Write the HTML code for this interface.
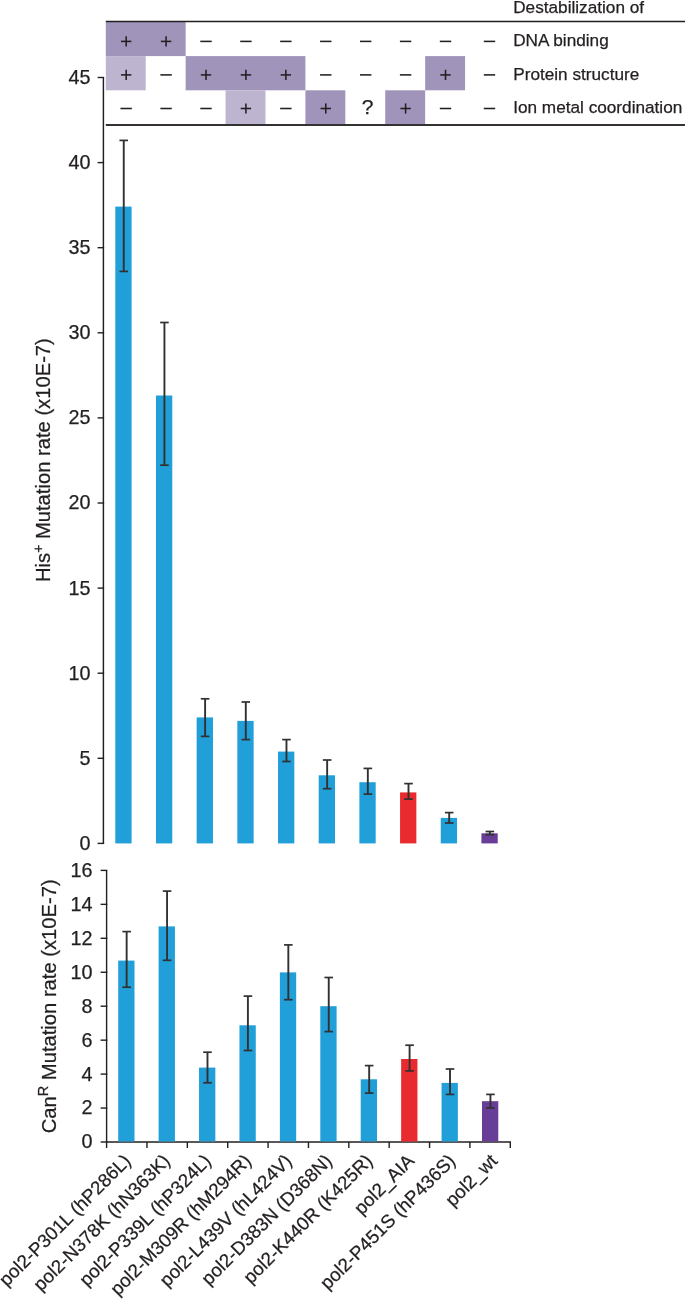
<!DOCTYPE html>
<html><head><meta charset="utf-8"><style>
html,body{margin:0;padding:0;background:#fff;}
svg{display:block;will-change:transform;}
text{font-family:"Liberation Sans",sans-serif;fill:#231f20;stroke:#231f20;stroke-width:0.25px;}
</style></head><body>
<svg width="685" height="1299" viewBox="0 0 685 1299">
<rect width="685" height="1299" fill="#fff"/>
<rect x="105.80" y="21.50" width="79.84" height="34.60" fill="#a094bb"/>
<rect x="105.80" y="56.10" width="39.92" height="34.20" fill="#bdb4d0"/>
<rect x="185.64" y="56.10" width="119.76" height="34.20" fill="#a094bb"/>
<rect x="425.16" y="56.10" width="39.92" height="34.20" fill="#a094bb"/>
<rect x="225.56" y="90.30" width="39.92" height="34.20" fill="#bdb4d0"/>
<rect x="305.40" y="90.30" width="39.92" height="34.20" fill="#a094bb"/>
<rect x="385.24" y="90.30" width="39.92" height="34.20" fill="#a094bb"/>
<line x1="105.80" y1="21.50" x2="685.00" y2="21.50" stroke="#231f20" stroke-width="1.6"/>
<line x1="105.80" y1="125.00" x2="685.00" y2="125.00" stroke="#353132" stroke-width="1.9"/>
<line x1="120.96" y1="41.40" x2="131.36" y2="41.40" stroke="#231f20" stroke-width="1.55"/>
<line x1="126.16" y1="36.30" x2="126.16" y2="46.50" stroke="#231f20" stroke-width="1.55"/>
<line x1="160.88" y1="41.40" x2="171.28" y2="41.40" stroke="#231f20" stroke-width="1.55"/>
<line x1="166.08" y1="36.30" x2="166.08" y2="46.50" stroke="#231f20" stroke-width="1.55"/>
<line x1="200.30" y1="41.40" x2="211.70" y2="41.40" stroke="#231f20" stroke-width="1.55"/>
<line x1="240.22" y1="41.40" x2="251.62" y2="41.40" stroke="#231f20" stroke-width="1.55"/>
<line x1="280.14" y1="41.40" x2="291.54" y2="41.40" stroke="#231f20" stroke-width="1.55"/>
<line x1="320.06" y1="41.40" x2="331.46" y2="41.40" stroke="#231f20" stroke-width="1.55"/>
<line x1="359.98" y1="41.40" x2="371.38" y2="41.40" stroke="#231f20" stroke-width="1.55"/>
<line x1="399.90" y1="41.40" x2="411.30" y2="41.40" stroke="#231f20" stroke-width="1.55"/>
<line x1="439.82" y1="41.40" x2="451.22" y2="41.40" stroke="#231f20" stroke-width="1.55"/>
<line x1="483.80" y1="41.40" x2="495.20" y2="41.40" stroke="#231f20" stroke-width="1.55"/>
<line x1="120.96" y1="74.90" x2="131.36" y2="74.90" stroke="#231f20" stroke-width="1.55"/>
<line x1="126.16" y1="69.80" x2="126.16" y2="80.00" stroke="#231f20" stroke-width="1.55"/>
<line x1="160.38" y1="74.90" x2="171.78" y2="74.90" stroke="#231f20" stroke-width="1.55"/>
<line x1="200.80" y1="74.90" x2="211.20" y2="74.90" stroke="#231f20" stroke-width="1.55"/>
<line x1="206.00" y1="69.80" x2="206.00" y2="80.00" stroke="#231f20" stroke-width="1.55"/>
<line x1="240.72" y1="74.90" x2="251.12" y2="74.90" stroke="#231f20" stroke-width="1.55"/>
<line x1="245.92" y1="69.80" x2="245.92" y2="80.00" stroke="#231f20" stroke-width="1.55"/>
<line x1="280.64" y1="74.90" x2="291.04" y2="74.90" stroke="#231f20" stroke-width="1.55"/>
<line x1="285.84" y1="69.80" x2="285.84" y2="80.00" stroke="#231f20" stroke-width="1.55"/>
<line x1="320.06" y1="74.90" x2="331.46" y2="74.90" stroke="#231f20" stroke-width="1.55"/>
<line x1="359.98" y1="74.90" x2="371.38" y2="74.90" stroke="#231f20" stroke-width="1.55"/>
<line x1="399.90" y1="74.90" x2="411.30" y2="74.90" stroke="#231f20" stroke-width="1.55"/>
<line x1="440.32" y1="74.90" x2="450.72" y2="74.90" stroke="#231f20" stroke-width="1.55"/>
<line x1="445.52" y1="69.80" x2="445.52" y2="80.00" stroke="#231f20" stroke-width="1.55"/>
<line x1="483.80" y1="74.90" x2="495.20" y2="74.90" stroke="#231f20" stroke-width="1.55"/>
<line x1="120.46" y1="108.50" x2="131.86" y2="108.50" stroke="#231f20" stroke-width="1.55"/>
<line x1="160.38" y1="108.50" x2="171.78" y2="108.50" stroke="#231f20" stroke-width="1.55"/>
<line x1="200.30" y1="108.50" x2="211.70" y2="108.50" stroke="#231f20" stroke-width="1.55"/>
<line x1="240.72" y1="108.50" x2="251.12" y2="108.50" stroke="#231f20" stroke-width="1.55"/>
<line x1="245.92" y1="103.40" x2="245.92" y2="113.60" stroke="#231f20" stroke-width="1.55"/>
<line x1="280.14" y1="108.50" x2="291.54" y2="108.50" stroke="#231f20" stroke-width="1.55"/>
<line x1="320.56" y1="108.50" x2="330.96" y2="108.50" stroke="#231f20" stroke-width="1.55"/>
<line x1="325.76" y1="103.40" x2="325.76" y2="113.60" stroke="#231f20" stroke-width="1.55"/>
<text x="367.68" y="114.30" font-size="21" text-anchor="middle" >?</text>
<line x1="400.40" y1="108.50" x2="410.80" y2="108.50" stroke="#231f20" stroke-width="1.55"/>
<line x1="405.60" y1="103.40" x2="405.60" y2="113.60" stroke="#231f20" stroke-width="1.55"/>
<line x1="439.82" y1="108.50" x2="451.22" y2="108.50" stroke="#231f20" stroke-width="1.55"/>
<line x1="483.80" y1="108.50" x2="495.20" y2="108.50" stroke="#231f20" stroke-width="1.55"/>
<text x="513.20" y="12.60" font-size="17.2" text-anchor="start" >Destabilization of</text>
<text x="513.20" y="45.80" font-size="17.2" text-anchor="start" >DNA binding</text>
<text x="513.20" y="79.60" font-size="17.2" text-anchor="start" >Protein structure</text>
<text x="513.20" y="113.40" font-size="17.2" text-anchor="start" >Ion metal coordination</text>
<line x1="103.40" y1="77.30" x2="103.40" y2="844.10" stroke="#231f20" stroke-width="1.45"/>
<line x1="97.60" y1="843.40" x2="104.10" y2="843.40" stroke="#231f20" stroke-width="1.4"/>
<text x="90.60" y="849.80" font-size="19.8" text-anchor="end" >0</text>
<line x1="97.60" y1="758.30" x2="104.10" y2="758.30" stroke="#231f20" stroke-width="1.4"/>
<text x="90.60" y="764.70" font-size="19.8" text-anchor="end" >5</text>
<line x1="97.60" y1="673.20" x2="104.10" y2="673.20" stroke="#231f20" stroke-width="1.4"/>
<text x="90.60" y="679.60" font-size="19.8" text-anchor="end" >10</text>
<line x1="97.60" y1="588.10" x2="104.10" y2="588.10" stroke="#231f20" stroke-width="1.4"/>
<text x="90.60" y="594.50" font-size="19.8" text-anchor="end" >15</text>
<line x1="97.60" y1="503.00" x2="104.10" y2="503.00" stroke="#231f20" stroke-width="1.4"/>
<text x="90.60" y="509.40" font-size="19.8" text-anchor="end" >20</text>
<line x1="97.60" y1="417.90" x2="104.10" y2="417.90" stroke="#231f20" stroke-width="1.4"/>
<text x="90.60" y="424.30" font-size="19.8" text-anchor="end" >25</text>
<line x1="97.60" y1="332.80" x2="104.10" y2="332.80" stroke="#231f20" stroke-width="1.4"/>
<text x="90.60" y="339.20" font-size="19.8" text-anchor="end" >30</text>
<line x1="97.60" y1="247.70" x2="104.10" y2="247.70" stroke="#231f20" stroke-width="1.4"/>
<text x="90.60" y="254.10" font-size="19.8" text-anchor="end" >35</text>
<line x1="97.60" y1="162.60" x2="104.10" y2="162.60" stroke="#231f20" stroke-width="1.4"/>
<text x="90.60" y="169.00" font-size="19.8" text-anchor="end" >40</text>
<line x1="97.60" y1="77.50" x2="104.10" y2="77.50" stroke="#231f20" stroke-width="1.4"/>
<text x="90.60" y="83.90" font-size="19.8" text-anchor="end" >45</text>
<rect x="115.30" y="206.60" width="16.30" height="636.80" fill="#209fd8"/>
<line x1="123.75" y1="140.40" x2="123.75" y2="271.40" stroke="#333031" stroke-width="1.9"/>
<line x1="119.45" y1="140.40" x2="128.05" y2="140.40" stroke="#333031" stroke-width="1.7"/>
<line x1="119.45" y1="271.40" x2="128.05" y2="271.40" stroke="#333031" stroke-width="1.7"/>
<rect x="155.98" y="395.50" width="16.30" height="447.90" fill="#209fd8"/>
<line x1="164.43" y1="322.50" x2="164.43" y2="465.20" stroke="#333031" stroke-width="1.9"/>
<line x1="160.13" y1="322.50" x2="168.73" y2="322.50" stroke="#333031" stroke-width="1.7"/>
<line x1="160.13" y1="465.20" x2="168.73" y2="465.20" stroke="#333031" stroke-width="1.7"/>
<rect x="196.66" y="717.40" width="16.30" height="126.00" fill="#209fd8"/>
<line x1="205.11" y1="698.80" x2="205.11" y2="736.40" stroke="#333031" stroke-width="1.9"/>
<line x1="200.81" y1="698.80" x2="209.41" y2="698.80" stroke="#333031" stroke-width="1.7"/>
<line x1="200.81" y1="736.40" x2="209.41" y2="736.40" stroke="#333031" stroke-width="1.7"/>
<rect x="237.34" y="720.90" width="16.30" height="122.50" fill="#209fd8"/>
<line x1="245.79" y1="702.00" x2="245.79" y2="739.60" stroke="#333031" stroke-width="1.9"/>
<line x1="241.49" y1="702.00" x2="250.09" y2="702.00" stroke="#333031" stroke-width="1.7"/>
<line x1="241.49" y1="739.60" x2="250.09" y2="739.60" stroke="#333031" stroke-width="1.7"/>
<rect x="278.02" y="751.60" width="16.30" height="91.80" fill="#209fd8"/>
<line x1="286.47" y1="739.60" x2="286.47" y2="761.50" stroke="#333031" stroke-width="1.9"/>
<line x1="282.17" y1="739.60" x2="290.77" y2="739.60" stroke="#333031" stroke-width="1.7"/>
<line x1="282.17" y1="761.50" x2="290.77" y2="761.50" stroke="#333031" stroke-width="1.7"/>
<rect x="318.70" y="775.30" width="16.30" height="68.10" fill="#209fd8"/>
<line x1="327.15" y1="760.00" x2="327.15" y2="788.70" stroke="#333031" stroke-width="1.9"/>
<line x1="322.85" y1="760.00" x2="331.45" y2="760.00" stroke="#333031" stroke-width="1.7"/>
<line x1="322.85" y1="788.70" x2="331.45" y2="788.70" stroke="#333031" stroke-width="1.7"/>
<rect x="359.38" y="782.20" width="16.30" height="61.20" fill="#209fd8"/>
<line x1="367.83" y1="768.40" x2="367.83" y2="794.10" stroke="#333031" stroke-width="1.9"/>
<line x1="363.53" y1="768.40" x2="372.13" y2="768.40" stroke="#333031" stroke-width="1.7"/>
<line x1="363.53" y1="794.10" x2="372.13" y2="794.10" stroke="#333031" stroke-width="1.7"/>
<rect x="400.06" y="792.40" width="16.30" height="51.00" fill="#e92a2e"/>
<line x1="408.51" y1="783.60" x2="408.51" y2="799.10" stroke="#333031" stroke-width="1.9"/>
<line x1="404.21" y1="783.60" x2="412.81" y2="783.60" stroke="#333031" stroke-width="1.7"/>
<line x1="404.21" y1="799.10" x2="412.81" y2="799.10" stroke="#333031" stroke-width="1.7"/>
<rect x="440.74" y="817.90" width="16.30" height="25.50" fill="#209fd8"/>
<line x1="449.19" y1="812.60" x2="449.19" y2="823.00" stroke="#333031" stroke-width="1.9"/>
<line x1="444.89" y1="812.60" x2="453.49" y2="812.60" stroke="#333031" stroke-width="1.7"/>
<line x1="444.89" y1="823.00" x2="453.49" y2="823.00" stroke="#333031" stroke-width="1.7"/>
<rect x="481.42" y="833.30" width="16.30" height="10.10" fill="#683d97"/>
<line x1="489.87" y1="831.50" x2="489.87" y2="834.70" stroke="#333031" stroke-width="1.9"/>
<line x1="485.57" y1="831.50" x2="494.17" y2="831.50" stroke="#333031" stroke-width="1.7"/>
<line x1="485.57" y1="834.70" x2="494.17" y2="834.70" stroke="#333031" stroke-width="1.7"/>
<text transform="translate(50.4,582) rotate(-90)" font-size="20.2">His<tspan font-size="14" dy="-7">+</tspan><tspan dy="7"> Mutation rate (x10E-7)</tspan></text>
<line x1="106.60" y1="870.40" x2="106.60" y2="1142.00" stroke="#231f20" stroke-width="1.4"/>
<line x1="100.60" y1="1142.00" x2="107.30" y2="1142.00" stroke="#231f20" stroke-width="1.4"/>
<text x="92.40" y="1148.40" font-size="19.8" text-anchor="end" >0</text>
<line x1="100.60" y1="1108.05" x2="107.30" y2="1108.05" stroke="#231f20" stroke-width="1.4"/>
<text x="92.40" y="1114.45" font-size="19.8" text-anchor="end" >2</text>
<line x1="100.60" y1="1074.10" x2="107.30" y2="1074.10" stroke="#231f20" stroke-width="1.4"/>
<text x="92.40" y="1080.50" font-size="19.8" text-anchor="end" >4</text>
<line x1="100.60" y1="1040.15" x2="107.30" y2="1040.15" stroke="#231f20" stroke-width="1.4"/>
<text x="92.40" y="1046.55" font-size="19.8" text-anchor="end" >6</text>
<line x1="100.60" y1="1006.20" x2="107.30" y2="1006.20" stroke="#231f20" stroke-width="1.4"/>
<text x="92.40" y="1012.60" font-size="19.8" text-anchor="end" >8</text>
<line x1="100.60" y1="972.25" x2="107.30" y2="972.25" stroke="#231f20" stroke-width="1.4"/>
<text x="92.40" y="978.65" font-size="19.8" text-anchor="end" >10</text>
<line x1="100.60" y1="938.30" x2="107.30" y2="938.30" stroke="#231f20" stroke-width="1.4"/>
<text x="92.40" y="944.70" font-size="19.8" text-anchor="end" >12</text>
<line x1="100.60" y1="904.35" x2="107.30" y2="904.35" stroke="#231f20" stroke-width="1.4"/>
<text x="92.40" y="910.75" font-size="19.8" text-anchor="end" >14</text>
<line x1="100.60" y1="870.40" x2="107.30" y2="870.40" stroke="#231f20" stroke-width="1.4"/>
<text x="92.40" y="876.80" font-size="19.8" text-anchor="end" >16</text>
<line x1="105.90" y1="1142.00" x2="511.00" y2="1142.00" stroke="#231f20" stroke-width="1.4"/>
<line x1="106.60" y1="1142.00" x2="106.60" y2="1148.00" stroke="#231f20" stroke-width="1.4"/>
<line x1="146.97" y1="1142.00" x2="146.97" y2="1148.00" stroke="#231f20" stroke-width="1.4"/>
<line x1="187.34" y1="1142.00" x2="187.34" y2="1148.00" stroke="#231f20" stroke-width="1.4"/>
<line x1="227.71" y1="1142.00" x2="227.71" y2="1148.00" stroke="#231f20" stroke-width="1.4"/>
<line x1="268.08" y1="1142.00" x2="268.08" y2="1148.00" stroke="#231f20" stroke-width="1.4"/>
<line x1="308.45" y1="1142.00" x2="308.45" y2="1148.00" stroke="#231f20" stroke-width="1.4"/>
<line x1="348.82" y1="1142.00" x2="348.82" y2="1148.00" stroke="#231f20" stroke-width="1.4"/>
<line x1="389.19" y1="1142.00" x2="389.19" y2="1148.00" stroke="#231f20" stroke-width="1.4"/>
<line x1="429.56" y1="1142.00" x2="429.56" y2="1148.00" stroke="#231f20" stroke-width="1.4"/>
<line x1="469.93" y1="1142.00" x2="469.93" y2="1148.00" stroke="#231f20" stroke-width="1.4"/>
<line x1="510.30" y1="1142.00" x2="510.30" y2="1148.00" stroke="#231f20" stroke-width="1.4"/>
<rect x="118.20" y="960.60" width="16.30" height="180.90" fill="#209fd8"/>
<line x1="126.65" y1="931.60" x2="126.65" y2="987.20" stroke="#333031" stroke-width="1.9"/>
<line x1="122.35" y1="931.60" x2="130.95" y2="931.60" stroke="#333031" stroke-width="1.7"/>
<line x1="122.35" y1="987.20" x2="130.95" y2="987.20" stroke="#333031" stroke-width="1.7"/>
<rect x="158.62" y="926.40" width="16.30" height="215.10" fill="#209fd8"/>
<line x1="167.07" y1="891.10" x2="167.07" y2="960.30" stroke="#333031" stroke-width="1.9"/>
<line x1="162.77" y1="891.10" x2="171.37" y2="891.10" stroke="#333031" stroke-width="1.7"/>
<line x1="162.77" y1="960.30" x2="171.37" y2="960.30" stroke="#333031" stroke-width="1.7"/>
<rect x="199.04" y="1067.60" width="16.30" height="73.90" fill="#209fd8"/>
<line x1="207.49" y1="1052.20" x2="207.49" y2="1082.80" stroke="#333031" stroke-width="1.9"/>
<line x1="203.19" y1="1052.20" x2="211.79" y2="1052.20" stroke="#333031" stroke-width="1.7"/>
<line x1="203.19" y1="1082.80" x2="211.79" y2="1082.80" stroke="#333031" stroke-width="1.7"/>
<rect x="239.46" y="1025.30" width="16.30" height="116.20" fill="#209fd8"/>
<line x1="247.91" y1="996.10" x2="247.91" y2="1050.50" stroke="#333031" stroke-width="1.9"/>
<line x1="243.61" y1="996.10" x2="252.21" y2="996.10" stroke="#333031" stroke-width="1.7"/>
<line x1="243.61" y1="1050.50" x2="252.21" y2="1050.50" stroke="#333031" stroke-width="1.7"/>
<rect x="279.88" y="972.40" width="16.30" height="169.10" fill="#209fd8"/>
<line x1="288.33" y1="944.90" x2="288.33" y2="999.70" stroke="#333031" stroke-width="1.9"/>
<line x1="284.03" y1="944.90" x2="292.63" y2="944.90" stroke="#333031" stroke-width="1.7"/>
<line x1="284.03" y1="999.70" x2="292.63" y2="999.70" stroke="#333031" stroke-width="1.7"/>
<rect x="320.30" y="1006.20" width="16.30" height="135.30" fill="#209fd8"/>
<line x1="328.75" y1="977.50" x2="328.75" y2="1031.60" stroke="#333031" stroke-width="1.9"/>
<line x1="324.45" y1="977.50" x2="333.05" y2="977.50" stroke="#333031" stroke-width="1.7"/>
<line x1="324.45" y1="1031.60" x2="333.05" y2="1031.60" stroke="#333031" stroke-width="1.7"/>
<rect x="360.72" y="1079.30" width="16.30" height="62.20" fill="#209fd8"/>
<line x1="369.17" y1="1065.60" x2="369.17" y2="1093.10" stroke="#333031" stroke-width="1.9"/>
<line x1="364.87" y1="1065.60" x2="373.47" y2="1065.60" stroke="#333031" stroke-width="1.7"/>
<line x1="364.87" y1="1093.10" x2="373.47" y2="1093.10" stroke="#333031" stroke-width="1.7"/>
<rect x="401.14" y="1059.00" width="16.30" height="82.50" fill="#e92a2e"/>
<line x1="409.59" y1="1045.20" x2="409.59" y2="1070.90" stroke="#333031" stroke-width="1.9"/>
<line x1="405.29" y1="1045.20" x2="413.89" y2="1045.20" stroke="#333031" stroke-width="1.7"/>
<line x1="405.29" y1="1070.90" x2="413.89" y2="1070.90" stroke="#333031" stroke-width="1.7"/>
<rect x="441.56" y="1082.90" width="16.30" height="58.60" fill="#209fd8"/>
<line x1="450.01" y1="1069.00" x2="450.01" y2="1094.40" stroke="#333031" stroke-width="1.9"/>
<line x1="445.71" y1="1069.00" x2="454.31" y2="1069.00" stroke="#333031" stroke-width="1.7"/>
<line x1="445.71" y1="1094.40" x2="454.31" y2="1094.40" stroke="#333031" stroke-width="1.7"/>
<rect x="481.98" y="1101.20" width="16.30" height="40.30" fill="#683d97"/>
<line x1="490.43" y1="1094.40" x2="490.43" y2="1108.00" stroke="#333031" stroke-width="1.9"/>
<line x1="486.13" y1="1094.40" x2="494.73" y2="1094.40" stroke="#333031" stroke-width="1.7"/>
<line x1="486.13" y1="1108.00" x2="494.73" y2="1108.00" stroke="#333031" stroke-width="1.7"/>
<text transform="translate(56.4,1133.3) rotate(-90)" font-size="20.2">Can<tspan font-size="14.5" dy="-8.4">R</tspan><tspan dy="8.4"> Mutation rate (x10E-7)</tspan></text>
<text transform="translate(131.90,1162) rotate(-45)" font-size="18.7" text-anchor="end">pol2-P301L (hP286L)</text>
<text transform="translate(171.10,1162) rotate(-45)" font-size="18.7" text-anchor="end">pol2-N378K (hN363K)</text>
<text transform="translate(212.10,1162) rotate(-45)" font-size="18.7" text-anchor="end">pol2-P339L (hP324L)</text>
<text transform="translate(252.30,1162) rotate(-45)" font-size="18.7" text-anchor="end">pol2-M309R (hM294R)</text>
<text transform="translate(293.00,1162) rotate(-45)" font-size="18.7" text-anchor="end">pol2-L439V (hL424V)</text>
<text transform="translate(333.20,1162) rotate(-45)" font-size="18.7" text-anchor="end">pol2-D383N (D368N)</text>
<text transform="translate(373.60,1162) rotate(-45)" font-size="18.7" text-anchor="end">pol2-K440R (K425R)</text>
<text transform="translate(415.40,1162) rotate(-45)" font-size="18.7" text-anchor="end">pol2_AIA</text>
<text transform="translate(456.40,1162) rotate(-45)" font-size="18.7" text-anchor="end">pol2-P451S (hP436S)</text>
<text transform="translate(498.50,1162) rotate(-45)" font-size="18.7" text-anchor="end">pol2_wt</text>
</svg>
</body></html>
